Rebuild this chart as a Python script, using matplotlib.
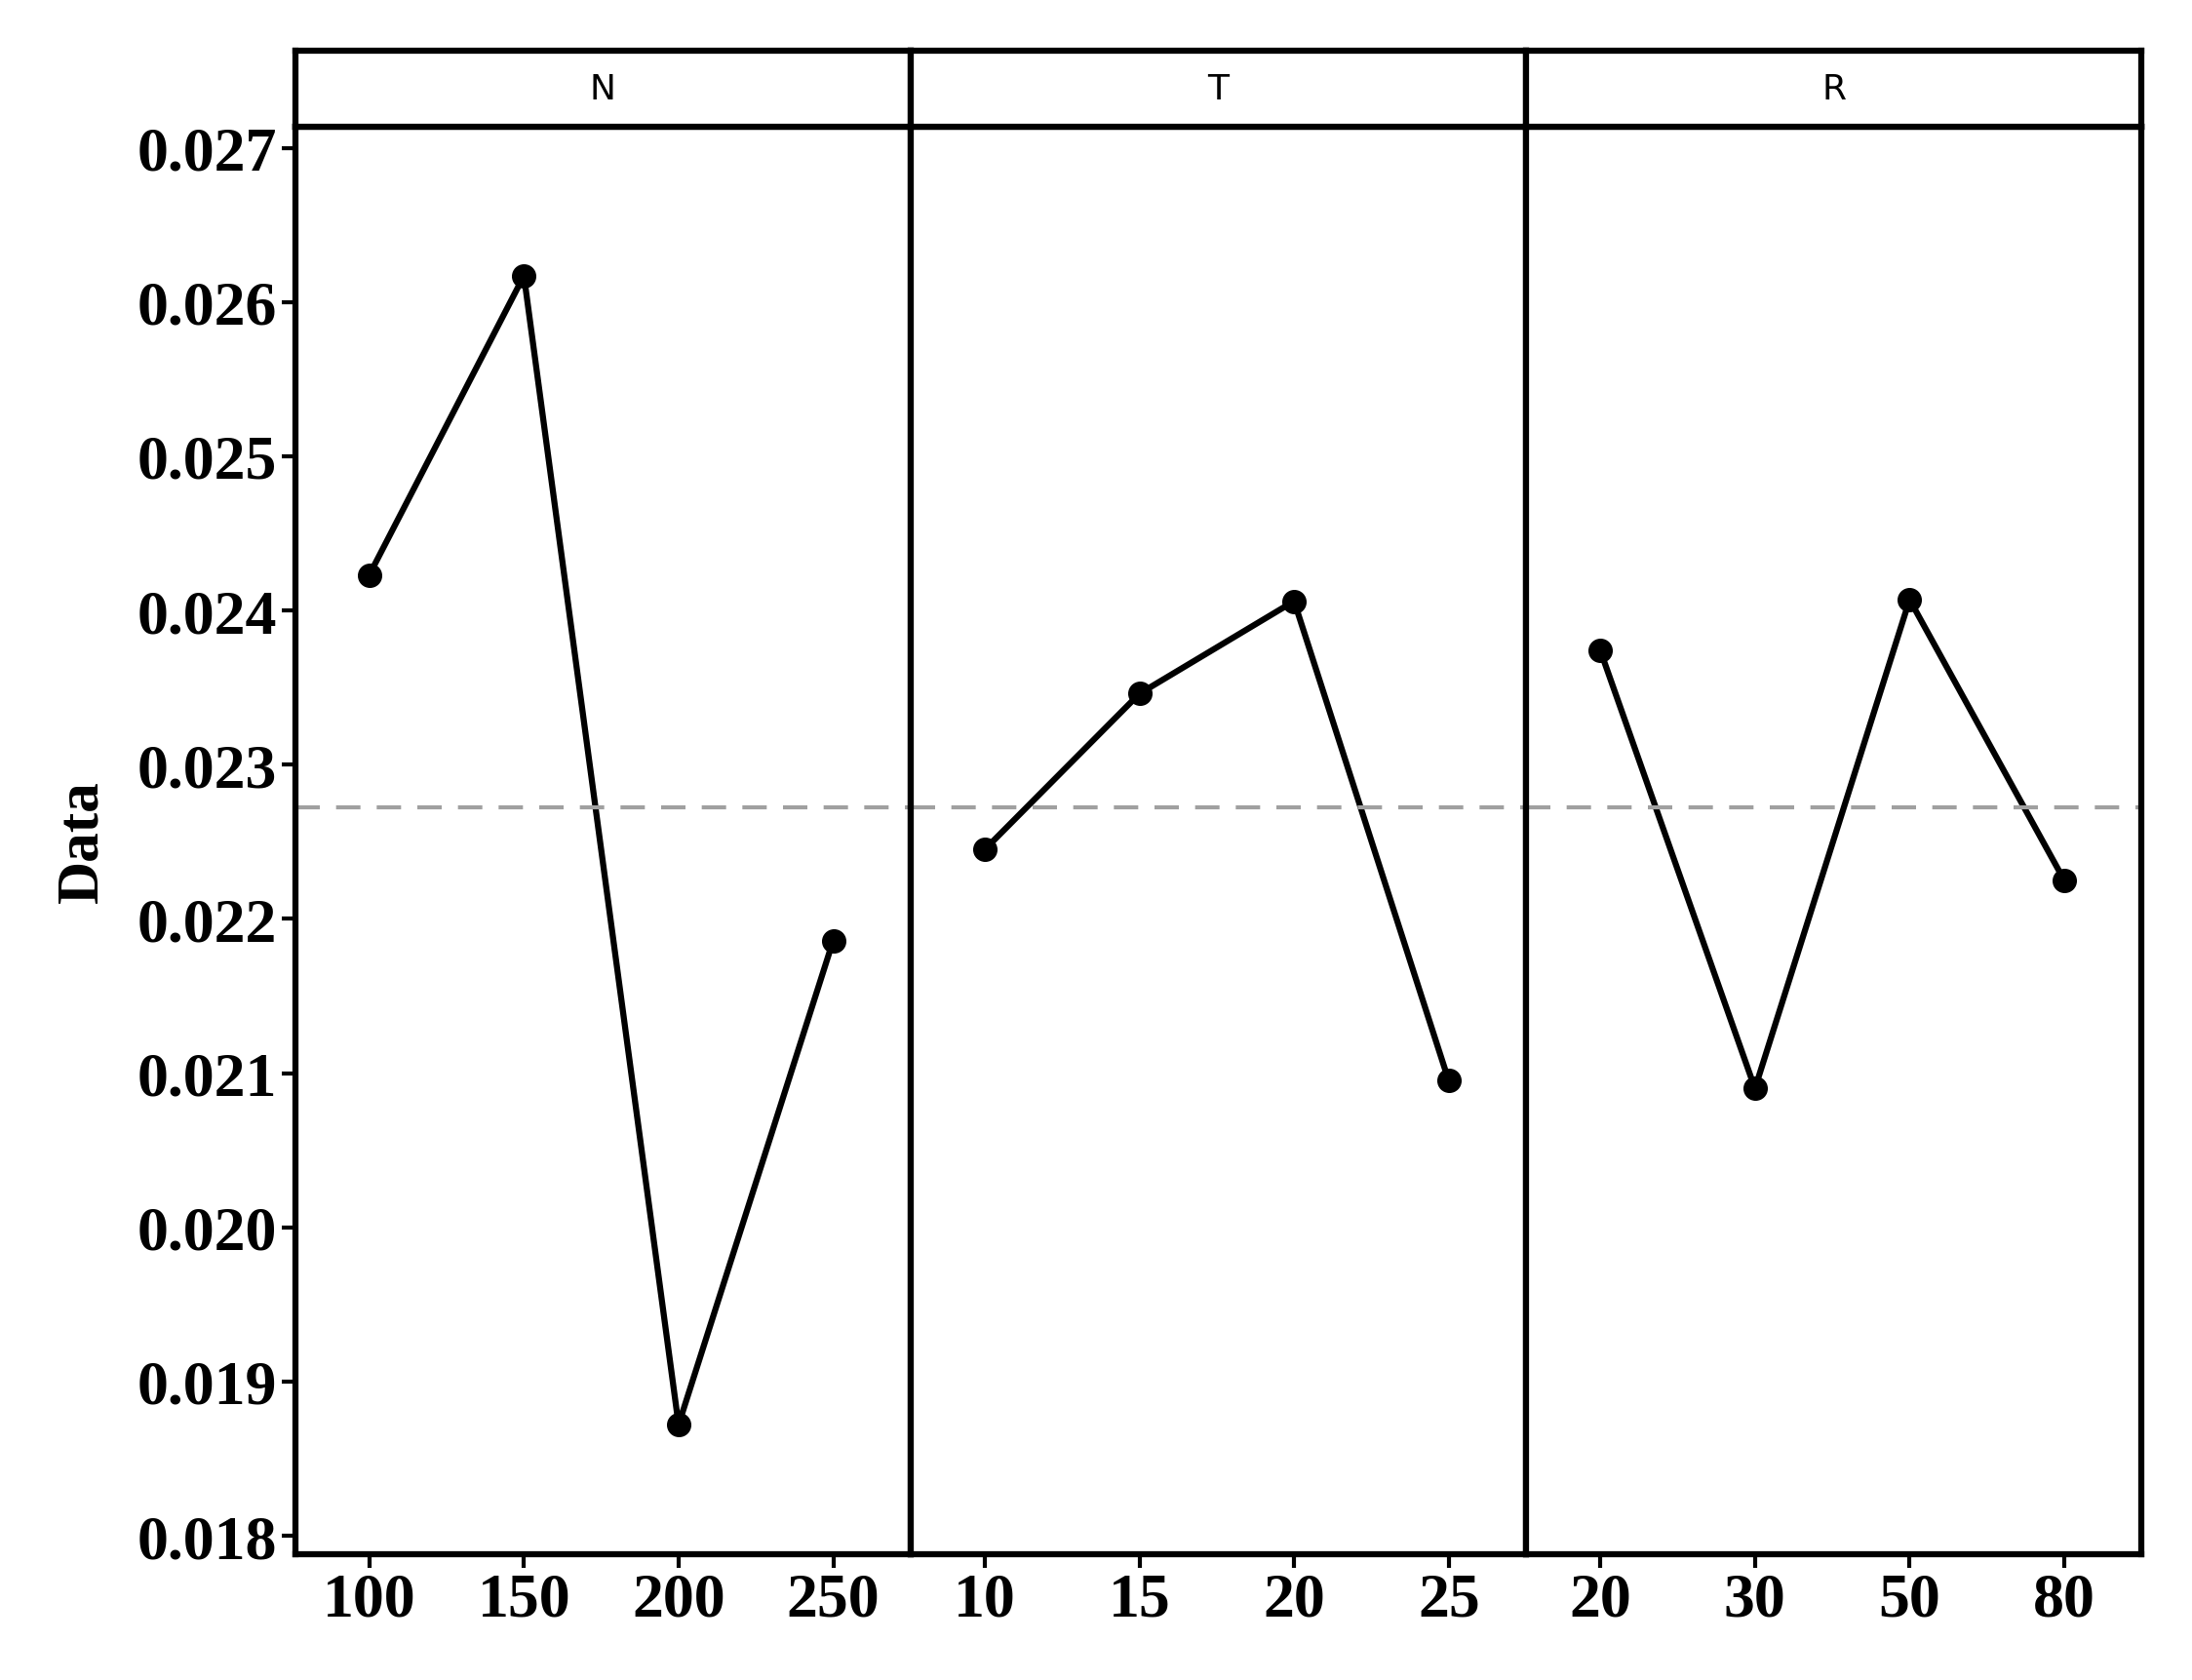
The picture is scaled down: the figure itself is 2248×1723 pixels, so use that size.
import matplotlib.pyplot as plt

panels = ["N", "T", "R"]
levels = [["100", "150", "200", "250"], ["10", "15", "20", "25"], ["20", "30", "50", "80"]]
values = [
    [0.02423, 0.02617, 0.01872, 0.02186],
    [0.02245, 0.02346, 0.02406, 0.02095],
    [0.02374, 0.02090, 0.02407, 0.02225],
]
grand_mean = 0.02272
yticks = [0.018, 0.019, 0.020, 0.021, 0.022, 0.023, 0.024, 0.025, 0.026, 0.027]

fig = plt.figure(figsize=(22.48, 17.24), dpi=100)
left, right = 0.1346, 0.977
bottom, top, head_top = 0.075, 0.924, 0.969
w = (right - left) / 3

for i, name in enumerate(panels):
    ax = fig.add_axes([left + i * w, bottom, w, top - bottom])
    ax.plot(range(4), values[i], "-o", color="black", lw=4.5, ms=17)
    ax.axhline(grand_mean, color="#a0a0a0", ls=(0, (6, 4)), lw=3)
    ax.set_xlim(-0.48, 3.5)
    ax.set_ylim(0.017882, 0.027136)
    ax.set_xticks(range(4))
    ax.set_xticklabels(levels[i], fontsize=46, fontweight="bold", family="Liberation Serif")
    ax.tick_params(axis="both", width=3, length=10)
    if i == 0:
        ax.set_yticks(yticks)
        ax.set_yticklabels([f"{v:.3f}" for v in yticks], fontsize=46,
                           fontweight="bold", family="Liberation Serif")
        ax.set_ylabel("Data", fontsize=44, fontweight="bold", family="Liberation Serif", labelpad=20)
    else:
        ax.set_yticks([])
    for s in ax.spines.values():
        s.set_linewidth(4.5)

    hx = fig.add_axes([left + i * w, top, w, head_top - top])
    hx.set_xticks([])
    hx.set_yticks([])
    for s in hx.spines.values():
        s.set_linewidth(4.5)
    hx.text(0.5, 0.5, name, ha="center", va="center", fontsize=26, family="DejaVu Sans")

fig.savefig("out.png", dpi=100)
